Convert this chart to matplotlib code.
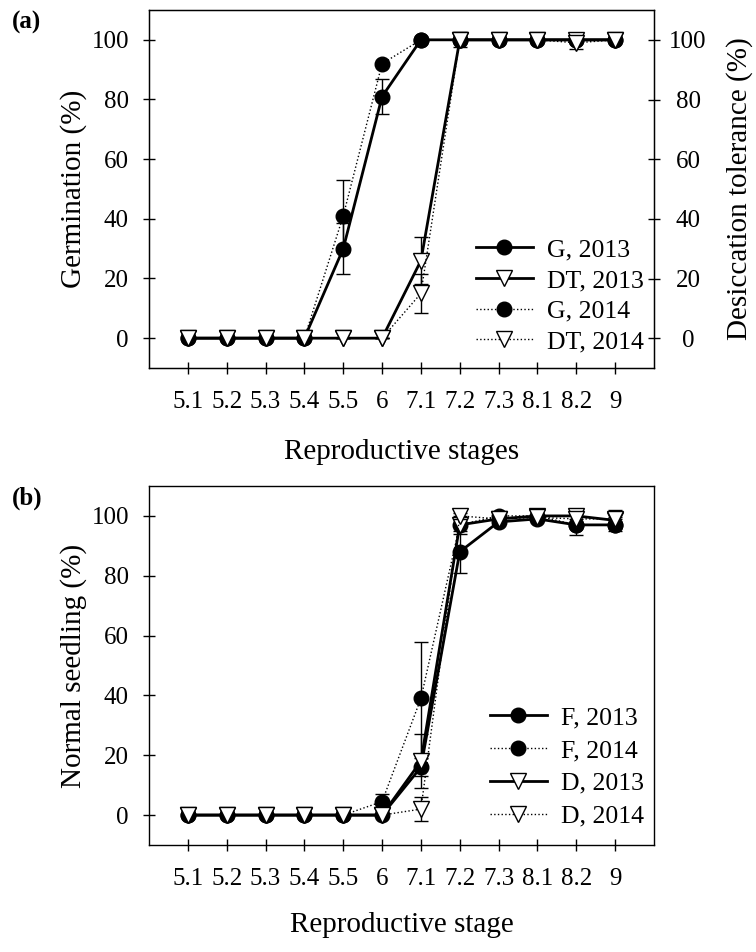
import matplotlib
matplotlib.use("Agg")
import matplotlib.pyplot as plt
import numpy as np

plt.rcParams['font.family'] = ['Liberation Serif', 'DejaVu Serif']
plt.rcParams['mathtext.fontset'] = 'stix'

stages = ["5.1", "5.2", "5.3", "5.4", "5.5", "6", "7.1", "7.2", "7.3", "8.1", "8.2", "9"]

# Panel (a)
g2013 = [0, 0, 0, 0, 30, 81, 100, 100, 100, 100, 100, 100]
g2013_err = [0, 0, 0, 0, 8.5, 6, 0, 0, 0, 0, 0, 0]
dt2013 = [0, 0, 0, 0, 0, 0, 26, 100, 100, 100, 100, 100]
dt2013_err = [0, 0, 0, 0, 0, 0, 8, 2.5, 0, 0, 0, 0]
g2014 = [0, 0, 0, 0, 41, 92, 100, 100, 100, 100, 100, 100]
g2014_err = [0, 0, 0, 0, 12, 0, 0, 0, 0, 0, 0, 0]
dt2014 = [0, 0, 0, 0, 0, 0, 15, 100, 100, 100, 99, 100]
dt2014_err = [0, 0, 0, 0, 0, 0, 6.5, 0, 0, 0, 2, 0]

# Panel (b)
f2013 = [0, 0, 0, 0, 0, 0, 16, 88, 98, 99, 97, 97]
f2013_err = [0, 0, 0, 0, 0, 0, 3, 7, 0, 0, 0, 1]
f2014 = [0, 0, 0, 0, 0, 4.5, 39, 97, 100, 100, 97, 97]
f2014_err = [0, 0, 0, 0, 0, 2.5, 19, 0, 1, 0, 3.5, 2]
d2013 = [0, 0, 0, 0, 0, 0, 18, 97, 99, 100, 100, 98.5]
d2013_err = [0, 0, 0, 0, 0, 0, 9, 3, 1, 0, 1, 1]
d2014 = [0, 0, 0, 0, 0, 0, 2, 100, 99, 99.5, 99, 99]
d2014_err = [0, 0, 0, 0, 0, 0, 4, 1, 0, 0, 2, 3]

yticks = [0, 20, 40, 60, 80, 100]

fig = plt.figure(figsize=(7.56, 9.52), dpi=100)
W, H = 756, 952

def axes_px(l, t, r, b):
    return fig.add_axes([l / W, 1 - b / H, (r - l) / W, (b - t) / H])

ax1 = axes_px(149, 10, 654, 368)
ax2 = axes_px(149, 486, 654, 845)

x = np.arange(len(stages))
FS = 18
LFS = 18.5
AFS = 21

def series(ax, y, err, filled, solid, label, ms_c=10.5, ms_t=11.5, z=3):
    ls = '-' if solid else ':'
    lw = 2.0 if solid else 1.0
    if filled:
        mk, mfc, ms = 'o', 'black', ms_c
    else:
        mk, mfc, ms = 'v', 'white', ms_t
    ax.errorbar(x, y, yerr=err, color='black', ecolor='black', elinewidth=1.0,
                capsize=5, capthick=1.0, fmt='none', zorder=z - 1)
    ln, = ax.plot(x, y, linestyle=ls, linewidth=lw, color='black', marker=mk,
                  markerfacecolor=mfc, markeredgecolor='black', markeredgewidth=1.0,
                  markersize=ms, label=label, zorder=z)
    return ln

def style(ax):
    ax.set_xlim(-1, 12)
    ax.set_ylim(-10, 110)
    ax.set_xticks(x)
    ax.set_xticklabels(stages, fontsize=FS)
    ax.set_yticks(yticks)
    ax.set_yticklabels([str(v) for v in yticks], fontsize=FS)
    ax.tick_params(axis='both', direction='inout', length=9, width=1.0)
    ax.tick_params(axis='y', pad=10)
    ax.tick_params(axis='x', pad=12)
    for s in ax.spines.values():
        s.set_linewidth(1.0)

# Panel (a)
h1 = series(ax1, g2013, g2013_err, True, True, 'G, 2013', z=3)
h3 = series(ax1, g2014, g2014_err, True, False, 'G, 2014', z=4)
h2 = series(ax1, dt2013, dt2013_err, False, True, 'DT, 2013', z=5)
h4 = series(ax1, dt2014, dt2014_err, False, False, 'DT, 2014', z=6)
style(ax1)
ax1.set_ylabel('Germination (%)', fontsize=AFS)
ax1.yaxis.set_label_coords((74 - 149) / 505, 0.5)
ax1.set_xlabel('Reproductive stages', fontsize=AFS)
ax1.xaxis.set_label_coords(0.5, (368 - 452) / 358)
ax1.xaxis.label.set_va('center')
ax1.yaxis.label.set_va('center')

axr = ax1.twinx()
axr.set_ylim(-10, 110)
axr.set_yticks(yticks)
axr.set_yticklabels([str(v) for v in yticks], fontsize=FS, ha='center')
axr.tick_params(axis='y', direction='inout', length=9, width=1.0, pad=20)
axr.set_ylabel('Desiccation tolerance (%)', fontsize=AFS)
axr.yaxis.set_label_coords((740 - 149) / 505, 0.5)
axr.yaxis.label.set_va('center')
axr.yaxis.label.set_rotation(90)

leg1 = ax1.legend([h1, h2, h3, h4], ['G, 2013', 'DT, 2013', 'G, 2014', 'DT, 2014'],
                  loc='lower right', bbox_to_anchor=(1.0, 0.012), frameon=False,
                  fontsize=LFS, handlelength=2.2, handletextpad=0.55, labelspacing=0.3,
                  borderaxespad=0.0)

# Panel (b)
k1 = series(ax2, f2013, f2013_err, True, True, 'F, 2013', z=3)
k2 = series(ax2, f2014, f2014_err, True, False, 'F, 2014', z=4)
k3 = series(ax2, d2013, d2013_err, False, True, 'D, 2013', z=5)
k4 = series(ax2, d2014, d2014_err, False, False, 'D, 2014', z=6)
style(ax2)
ax2.set_ylabel('Normal seedling (%)', fontsize=AFS)
ax2.yaxis.set_label_coords((74 - 149) / 505, 0.5)
ax2.yaxis.label.set_va('center')
ax2.set_xlabel('Reproductive stage', fontsize=AFS)
ax2.xaxis.set_label_coords(0.5, (845 - 925) / 359)
ax2.xaxis.label.set_va('center')

leg2 = ax2.legend([k1, k2, k3, k4], ['F, 2013', 'F, 2014', 'D, 2013', 'D, 2014'],
                  loc='lower right', bbox_to_anchor=(1.0, 0.02), frameon=False,
                  fontsize=LFS, handlelength=2.2, handletextpad=0.55, labelspacing=0.38,
                  borderaxespad=0.0)

fig.text(12 / W, 1 - 22 / H, '(a)', fontsize=18, fontweight='bold', va='center', ha='left')
fig.text(12 / W, 1 - 498 / H, '(b)', fontsize=18, fontweight='bold', va='center', ha='left')

fig.savefig('out.png', dpi=100)
